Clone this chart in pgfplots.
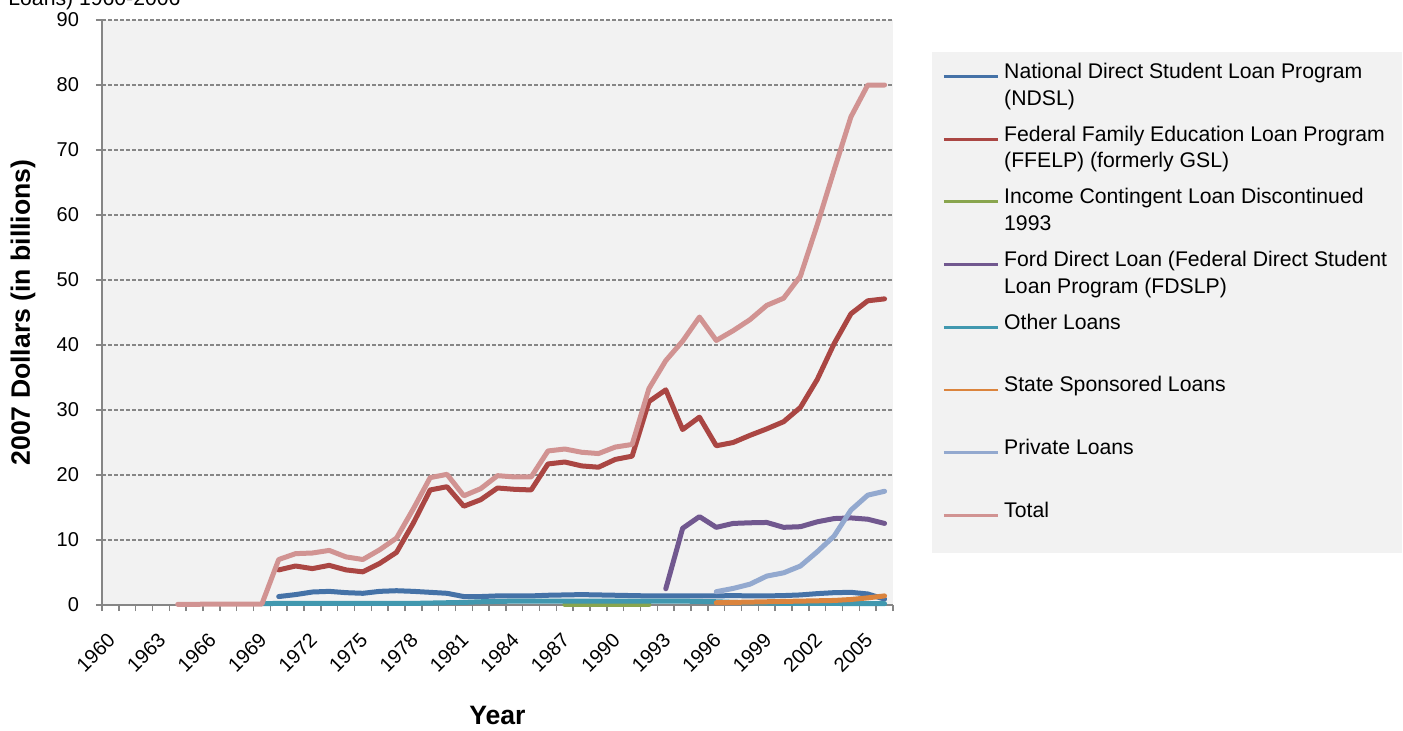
\documentclass[border=0pt]{standalone}
\usepackage{fontspec}
\setmainfont{Liberation Sans}
\usepackage{pgfplots}
\pgfplotsset{compat=1.18}

\definecolor{bggray}{HTML}{F2F2F2}
\definecolor{axisgray}{HTML}{868686}
\definecolor{cNDSL}{HTML}{4572A7}
\definecolor{cFFELP}{HTML}{AA4643}
\definecolor{cICL}{HTML}{89A54E}
\definecolor{cFord}{HTML}{71588F}
\definecolor{cOther}{HTML}{4198AF}
\definecolor{cState}{HTML}{DB843D}
\definecolor{cPriv}{HTML}{93A9CF}
\definecolor{cTotal}{HTML}{D19392}

% two-line legend text, aligned on its first line
\newcommand{\twolines}[2]{\begin{tabular}[t]{@{}l@{}}#1\\#2\end{tabular}}

\begin{document}
\begin{tikzpicture}
\path[use as bounding box] (-51pt,-62.5pt) rectangle (650.5pt,302.5pt);
\node[anchor=base west, inner sep=0pt, font=\fontsize{10.6}{13}\selectfont] at (-47pt,300pt) {Loans) 1960-2006};
\begin{axis}[
  at={(0pt,0pt)}, anchor=south west,
  scale only axis, width=395.5pt, height=292.5pt,
  xmin=1959.5, xmax=2006.5, ymin=0, ymax=90,
  clip=false,
  axis x line*=bottom, axis y line*=left,
  axis line style={draw=axisgray, line width=0.75pt, -},
  axis background/.style={fill=bggray},
  tick align=outside,
  major tick length=3pt, minor tick length=3pt,
  tick style={draw=axisgray, line width=0.75pt},
  xtick={1960,1963,1966,1969,1972,1975,1978,1981,1984,1987,1990,1993,1996,1999,2002,2005},
  xticklabels={1960,1963,1966,1969,1972,1975,1978,1981,1984,1987,1990,1993,1996,1999,2002,2005},
  major x tick style={draw=none},
  minor xtick={1959.5,1960.5,...,2006.5},
  ytick={0,10,...,90},
  ymajorgrids,
  major grid style={draw=axisgray, line width=0.75pt, dash pattern=on 2pt off 1pt},
  /pgf/number format/assume math mode=true,
  xticklabel style={xshift=3pt, yshift=-10.5pt, rotate=45, anchor=east, font=\fontsize{10}{12}\selectfont},
  yticklabel style={font=\fontsize{10}{12}\selectfont, xshift=-5pt},
  xlabel={Year},
  ylabel={2007 Dollars (in billions)},
  every axis x label/.style={at={(axis description cs:0.5,0)}, yshift=-55.25pt, anchor=center, font=\bfseries\fontsize{13.3}{16}\selectfont},
  every axis y label/.style={at={(axis description cs:0,0.5)}, xshift=-39.5pt, rotate=90, anchor=center, font=\bfseries\fontsize{13.3}{16}\selectfont},
  every axis plot/.append style={line width=2.5pt, line join=round, line cap=round},
  legend cell align=left,
  legend style={at={(axis description cs:1,1)}, anchor=north west, xshift=19.5pt, yshift=-16pt,
    fill=bggray, draw=none, inner xsep=5pt, inner ysep=2pt, row sep=4.35pt,
    font=\fontsize{10.6}{13.35}\selectfont,
    nodes={inner xsep=2.5pt, inner ysep=0pt, text height=11pt, text depth=16pt}},
  legend image code/.code={\draw[#1, line width=1.4pt, line cap=butt] (0pt,3.5pt) -- (27pt,3.5pt);},
]
% National Direct Student Loan Program
\addplot[cNDSL] coordinates {
(1970,1.3) (1971,1.6) (1972,2.0) (1973,2.1) (1974,1.9) (1975,1.8) (1976,2.1) (1977,2.2)
(1978,2.1) (1979,1.95) (1980,1.8) (1981,1.3) (1982,1.3) (1983,1.4) (1984,1.4) (1985,1.4)
(1986,1.5) (1987,1.55) (1988,1.6) (1989,1.55) (1990,1.5) (1991,1.45) (1992,1.4) (1993,1.4)
(1994,1.4) (1995,1.4) (1996,1.4) (1997,1.45) (1998,1.4) (1999,1.4) (2000,1.45) (2001,1.55)
(2002,1.75) (2003,1.9) (2004,1.95) (2005,1.7) (2006,0.9)};
\addlegendentry{\twolines{National Direct Student Loan Program}{(NDSL)}}
% Federal Family Education Loan Program
\addplot[cFFELP] coordinates {
(1970,5.4) (1971,6.0) (1972,5.6) (1973,6.1) (1974,5.4) (1975,5.1) (1976,6.4) (1977,8.1)
(1978,12.6) (1979,17.7) (1980,18.2) (1981,15.2) (1982,16.2) (1983,18.0) (1984,17.8) (1985,17.7)
(1986,21.7) (1987,22.0) (1988,21.4) (1989,21.2) (1990,22.4) (1991,22.9) (1992,31.3) (1993,33.1)
(1994,27.0) (1995,28.9) (1996,24.5) (1997,25.0) (1998,26.1) (1999,27.1) (2000,28.2) (2001,30.4)
(2002,34.7) (2003,40.2) (2004,44.8) (2005,46.8) (2006,47.1)};
\addlegendentry{\twolines{Federal Family Education Loan Program}{(FFELP) (formerly GSL)}}
% Income Contingent Loan
\addplot[cICL] coordinates {
(1987,0.05) (1988,0.05) (1989,0.05) (1990,0.05) (1991,0.05) (1992,0.05)};
\addlegendentry{\twolines{Income Contingent Loan Discontinued}{1993}}
% Ford Direct Loan
\addplot[cFord] coordinates {
(1993,2.5) (1994,11.8) (1995,13.6) (1996,11.95) (1997,12.55) (1998,12.65) (1999,12.7)
(2000,11.95) (2001,12.05) (2002,12.8) (2003,13.3) (2004,13.4) (2005,13.2) (2006,12.55)};
\addlegendentry{\twolines{Ford Direct Loan (Federal Direct Student}{Loan Program (FDSLP)}}
% Other loans
\addplot[cOther] coordinates {
(1969,0.2) (1970,0.25) (1971,0.25) (1972,0.25) (1973,0.25) (1974,0.25) (1975,0.25) (1976,0.25)
(1977,0.25) (1978,0.25) (1979,0.3) (1980,0.35) (1981,0.4) (1982,0.5) (1983,0.55) (1984,0.6)
(1985,0.6) (1986,0.6) (1987,0.6) (1988,0.6) (1989,0.6) (1990,0.6) (1991,0.6) (1992,0.6)
(1993,0.6) (1994,0.6) (1995,0.55) (1996,0.5) (1997,0.4) (1998,0.35) (1999,0.3) (2000,0.25)
(2001,0.25) (2002,0.25) (2003,0.25) (2004,0.2) (2005,0.2) (2006,0.2)};
\addlegendentry{Other Loans}
% State sponsored loans
\addplot[cState] coordinates {
(1996,0.35) (1997,0.4) (1998,0.45) (1999,0.5) (2000,0.55) (2001,0.6) (2002,0.65)
(2003,0.7) (2004,0.85) (2005,1.1) (2006,1.4)};
\addlegendentry{State Sponsored Loans}
% Private loans
\addplot[cPriv] coordinates {
(1996,2.05) (1997,2.55) (1998,3.2) (1999,4.45) (2000,4.95) (2001,6.0) (2002,8.2)
(2003,10.6) (2004,14.6) (2005,16.9) (2006,17.5)};
\addlegendentry{Private Loans}
% Total
\addplot[cTotal] coordinates {
(1964,0.1) (1965,0.1) (1966,0.15) (1967,0.15) (1968,0.15) (1969,0.15) (1970,7.0) (1971,7.9)
(1972,8.0) (1973,8.4) (1974,7.4) (1975,7.0) (1976,8.5) (1977,10.3) (1978,14.8) (1979,19.6)
(1980,20.1) (1981,16.8) (1982,17.9) (1983,19.9) (1984,19.7) (1985,19.7) (1986,23.7) (1987,24.0)
(1988,23.5) (1989,23.3) (1990,24.3) (1991,24.7) (1992,33.3) (1993,37.6) (1994,40.6) (1995,44.3)
(1996,40.7) (1997,42.2) (1998,43.9) (1999,46.1) (2000,47.2) (2001,50.6) (2002,58.5) (2003,66.9)
(2004,75.1) (2005,80.0) (2006,80.0)};
\addlegendentry{Total}
\end{axis}
\end{tikzpicture}
\end{document}
